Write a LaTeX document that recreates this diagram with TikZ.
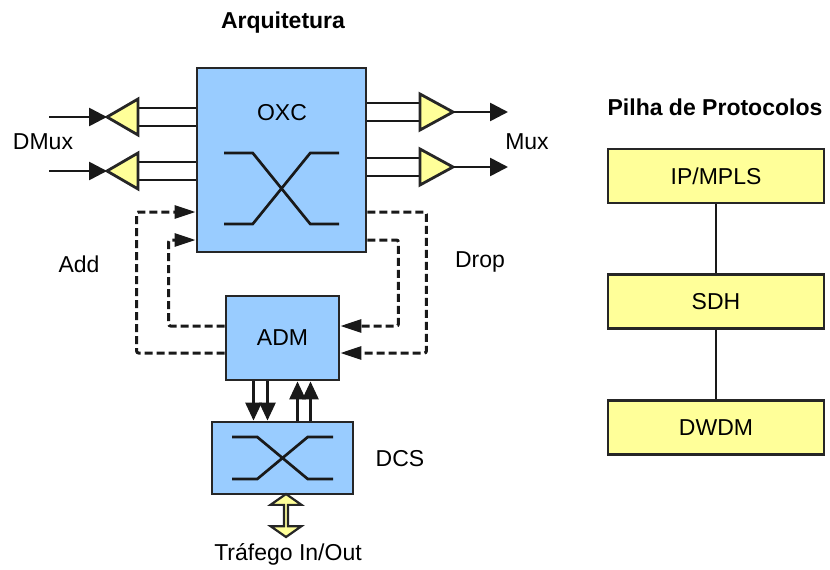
\documentclass[tikz,border=0pt]{standalone}
\usepackage{fontspec}
\setmainfont{Liberation Sans}
\usetikzlibrary{arrows.meta,shapes.arrows}
\definecolor{boxblue}{RGB}{153,204,255}
\definecolor{ampyellow}{RGB}{255,255,153}
\tikzset{
  txt/.style={font=\fontsize{23}{27}\selectfont},
  ttl/.style={font=\bfseries\fontsize{23}{27}\selectfont},
  blk/.style={draw=black!85,fill=boxblue,line width=2.8pt,inner sep=0pt,txt},
  layer/.style={draw=black!85,fill=ampyellow,line width=2.8pt,minimum width=216pt,minimum height=54pt,txt},
  amp/.style={draw=black!85,fill=ampyellow,line width=2.8pt,line join=miter},
  wire/.style={line width=2.7pt,draw=black!90},
  sig/.style={wire,-{Triangle[length=18pt,width=18pt]}},
  updown/.style={wire,-{Triangle[length=18pt,width=16pt]}},
  addrop/.style={wire,line width=3pt,dash pattern=on 8pt off 4pt,rounded corners=2pt,-{Triangle[length=21pt,width=13pt]}},
  xover/.pic={\draw[wire] (-1,1) -- (-0.5,1) -- (0.5,-1) -- (1,-1) (-1,-1) -- (-0.5,-1) -- (0.5,1) -- (1,1);}
}
\begin{document}
\begin{tikzpicture}[x=1pt,y=-1pt]
\useasboundingbox (0,0) rectangle (830,570);
\node[ttl] (arq) at (283,23) {Arquitetura};
\node[blk,minimum width=169pt,minimum height=184pt] (oxc) at (281.5,160) {};
\node[txt] (oxclbl) at (282,113) {OXC};
\pic[xscale=57.5,yscale=35.5] at ([yshift=-28.5pt]oxc.center) {xover};
\node[blk,minimum width=113pt,minimum height=84pt] (adm) at (282.5,338) {ADM};
\node[blk,minimum width=141pt,minimum height=72pt] (dcs) at (282.5,458) {};
\pic[xscale=50.5,yscale=21] at (dcs.center) {xover};
% amplificadores
\coordinate (dm1) at (138,117);
\coordinate (dm2) at (138,171);
\coordinate (mx1) at (420,112);
\coordinate (mx2) at (420,167);
\coordinate (in1) at (49,117);
\coordinate (in2) at (49,171);
\coordinate (out1) at (508,112);
\coordinate (out2) at (508,167);
\foreach \a in {dm1,dm2}{
  \draw[wire] ([yshift=9pt]\a) -- ([yshift=9pt]\a -| oxc.west);
  \draw[wire] ([yshift=-9pt]\a) -- ([yshift=-9pt]\a -| oxc.west);
  \draw[amp] (\a) ++(0,-18) -- ++(0,36) -- ++(-31,-18) coordinate (\a tip) -- cycle;
}
\foreach \a in {mx1,mx2}{
  \draw[wire] ([yshift=9pt]\a) -- ([yshift=9pt]\a -| oxc.east);
  \draw[wire] ([yshift=-9pt]\a) -- ([yshift=-9pt]\a -| oxc.east);
  \draw[amp] (\a) ++(0,-18) -- ++(0,36) -- ++(33,-18) coordinate (\a tip) -- cycle;
}
\draw[sig] (in1) -- (dm1tip);
\draw[sig] (in2) -- (dm2tip);
\draw[sig] (mx1tip) -- (out1);
\draw[sig] (mx2tip) -- (out2);
\node[txt] (dmux) at (43,142) {DMux};
\node[txt] (mux) at (527,142) {Mux};
% add / drop
\draw[addrop] ([yshift=-15pt]adm.west) -| ([xshift=-59pt,yshift=-52pt]oxc.west) -- ([yshift=-52pt]oxc.west);
\draw[addrop] ([yshift=12pt]adm.west) -| ([xshift=-27pt,yshift=-80pt]oxc.west) -- ([yshift=-80pt]oxc.west);
\draw[addrop] ([yshift=-52pt]oxc.east) -| ([xshift=86pt,yshift=-15pt]adm.east) -- ([yshift=-15pt]adm.east);
\draw[addrop] ([yshift=-80pt]oxc.east) -| ([xshift=58pt,yshift=12pt]adm.east) -- ([yshift=12pt]adm.east);
\node[txt] (add) at (79,264) {Add};
\node[txt] (drop) at (480,262) {Drop};
\foreach \dx in {-29,-15} \draw[updown] ([xshift=\dx pt]adm.south) -- ([xshift=\dx pt]dcs.north);
\foreach \dx in {15,28} \draw[updown] ([xshift=\dx pt]dcs.north) -- ([xshift=\dx pt]adm.south);
\node[txt] (dcslbl) at (400,459) {DCS};
\node[double arrow,rotate=90,draw=black!85,fill=ampyellow,line width=2.2pt,inner sep=0pt,
  minimum height=43pt,minimum width=31pt,double arrow head extend=7.5pt,double arrow tip angle=110] (trf) at (286,515.5) {};
\node[txt] (trflbl) at (288,554) {Tráfego In/Out};
% pilha
\node[ttl] (pilha) at (715,107) {Pilha de Protocolos};
\node[layer] (ip) at (716,176) {IP/MPLS};
\node[layer] (sdh) at (716,301.5) {SDH};
\node[layer] (dwdm) at (716,427.5) {DWDM};
\draw[wire] (ip) -- (sdh);
\draw[wire] (sdh) -- (dwdm);
\end{tikzpicture}
\end{document}
